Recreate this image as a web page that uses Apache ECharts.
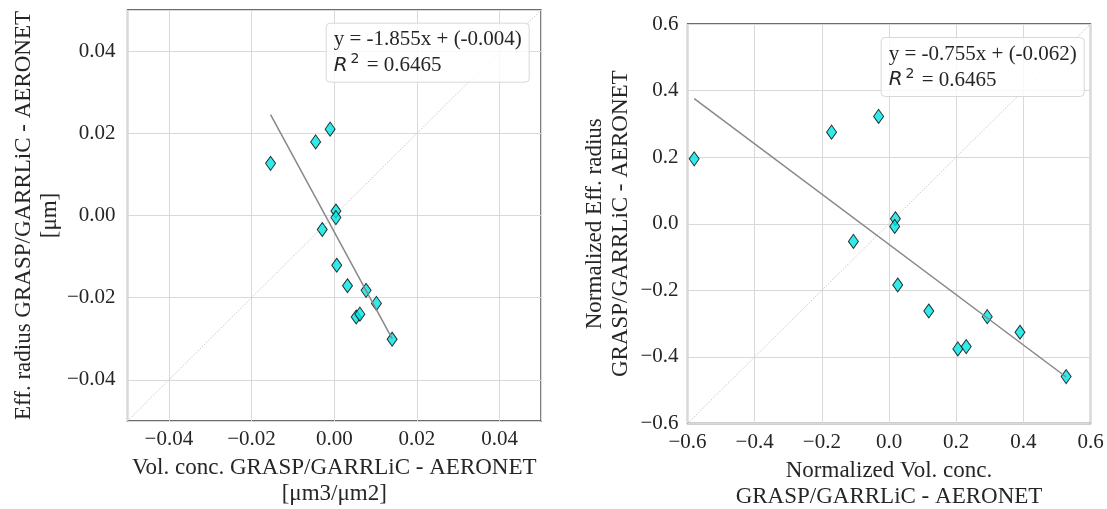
<!DOCTYPE html>
<html><head><meta charset="utf-8">
<script src="https://cdn.jsdelivr.net/npm/echarts@6/dist/echarts.min.js"></script>
<style>html,body{margin:0;padding:0;background:#fff}#c{width:1107px;height:509px}</style>
</head><body><div id="c"></div>
<script>
// Left panel: absolute differences
const volConc   = [-0.0154, -0.0045, -0.0010, 0.0004, 0.0004, -0.0029, 0.0006, 0.0032, 0.0077, 0.0102, 0.0053, 0.0062, 0.0140];
const effRadius = [0.0127, 0.0179, 0.0210, 0.0011, -0.0005, -0.0034, -0.0121, -0.0171, -0.0182, -0.0214, -0.0247, -0.0240, -0.0301];
// Right panel: normalized differences
const normVolConc   = [-0.580, -0.171, -0.031, 0.019, 0.017, -0.106, 0.026, 0.1185, 0.2925, 0.390, 0.205, 0.230, 0.5275];
const normEffRadius = [0.195, 0.275, 0.3225, 0.015, -0.008, -0.053, -0.184, -0.262, -0.279, -0.326, -0.376, -0.369, -0.459];
// Fit results
const fitLeft  = [-1.855, -0.004, 0.6465];   // slope, intercept, R2
const fitRight = [-0.755, -0.062, 0.6465];
// Axis ranges
const leftRange  = [-0.05, 0.05];
const rightRange = [-0.6, 0.6];

const SERIF = '"Liberation Serif", "Times New Roman", serif';
const TXT = '#262626';

function fmt(d) { return v => (v < 0 ? '\u2212' : '') + Math.abs(v).toFixed(d); }
function fitLine(xs, fit) {
  const lo = Math.min(...xs), hi = Math.max(...xs);
  return [[lo, fit[0] * lo + fit[1]], [hi, fit[0] * hi + fit[1]]];
}
function fitText(fit) {
  const s = v => v.toFixed(3);
  return '{t|y = ' + s(fit[0]) + 'x + (' + s(fit[1]) + ')}\n{r|R}{s|2}{t| = ' + fit[2].toFixed(4) + '}';
}
const richStyle = {
  t: {fontFamily: SERIF, fontSize: 21, fontWeight: 'normal', color: TXT, lineHeight: 26},
  r: {fontFamily: '"DejaVu Sans", sans-serif', fontStyle: 'italic', fontWeight: 'normal', fontSize: 20, color: TXT, lineHeight: 26},
  s: {fontFamily: '"DejaVu Sans", sans-serif', fontSize: 14, fontWeight: 'normal', color: TXT, lineHeight: 15, verticalAlign: 'top', padding: [0, 2, 0, 3]}
};
function axisCommon(range, extra) {
  return Object.assign({
    type: 'value', min: range[0], max: range[1],
    axisLine: {show: false}, axisTick: {show: false},
    splitLine: {show: true, lineStyle: {color: '#d9d9d9', width: 1}},
    nameLocation: 'middle',
    nameTextStyle: {fontFamily: SERIF, fontSize: 23, color: TXT, lineHeight: 26}
  }, extra);
}
function labels(decimals, margin, hideEnds) {
  return {fontFamily: SERIF, fontSize: 21, color: TXT, formatter: fmt(decimals), margin: margin,
          showMinLabel: !hideEnds, showMaxLabel: !hideEnds};
}
const markerStyle = {color: '#00e5e5', borderColor: '#000', borderWidth: 1};

const chart = echarts.init(document.getElementById('c'));
chart.setOption({
  animation: false,
  backgroundColor: '#fff',
  title: [
    {text: fitText(fitLeft), left: 325.7, top: 20.7, padding: [6, 8, 6, 8],
     backgroundColor: 'rgba(255,255,255,0.8)', borderColor: '#d8d8d8', borderWidth: 1, borderRadius: 4,
     textStyle: {fontWeight: 'normal', rich: richStyle}, z: 10},
    {text: fitText(fitRight), left: 880.7, top: 35, padding: [6, 8, 6, 8],
     backgroundColor: 'rgba(255,255,255,0.8)', borderColor: '#d8d8d8', borderWidth: 1, borderRadius: 4,
     textStyle: {fontWeight: 'normal', rich: richStyle}, z: 10}
  ],
  grid: [
    {left: 127.5, top: 10, width: 413.5, height: 411, outerBoundsMode: 'none', containLabel: false,
     show: true, borderColor: '#3c3c3c', borderWidth: 1.3, backgroundColor: 'transparent'},
    {left: 687.5, top: 24, width: 403, height: 399.5, outerBoundsMode: 'none', containLabel: false,
     show: true, borderColor: '#3c3c3c', borderWidth: 1.3, backgroundColor: 'transparent'}
  ],
  xAxis: [
    axisCommon(leftRange, {gridIndex: 0, splitNumber: 5, axisLabel: labels(2, 8, true),
      name: 'Vol. conc. GRASP/GARRLiC - AERONET\n[\u03bcm3/\u03bcm2]', nameGap: 33}),
    axisCommon(rightRange, {gridIndex: 1, interval: 0.2, axisLabel: labels(1, 8, false),
      name: 'Normalized Vol. conc.\nGRASP/GARRLiC - AERONET', nameGap: 34})
  ],
  yAxis: [
    axisCommon(leftRange, {gridIndex: 0, splitNumber: 5, axisLabel: labels(2, 12, true),
      name: 'Eff. radius GRASP/GARRLiC - AERONET\n[\u03bcm]', nameGap: 54}),
    axisCommon(rightRange, {gridIndex: 1, interval: 0.2, axisLabel: labels(1, 9, false),
      name: 'Normalized Eff. radius\nGRASP/GARRLiC - AERONET', nameGap: 54})
  ],
  series: [
    {type: 'line', xAxisIndex: 0, yAxisIndex: 0, symbol: 'none', silent: true,
     data: [[leftRange[0], leftRange[0]], [leftRange[1], leftRange[1]]],
     lineStyle: {color: '#bdbdbd', width: 0.8, type: [1.5, 1.5]}},
    {type: 'line', xAxisIndex: 0, yAxisIndex: 0, symbol: 'none', silent: true,
     data: fitLine(volConc, fitLeft), lineStyle: {color: '#888', width: 1.5}},
    {type: 'scatter', xAxisIndex: 0, yAxisIndex: 0, symbol: 'diamond', symbolSize: [10, 14],
     data: volConc.map((x, i) => [x, effRadius[i]]), itemStyle: markerStyle},
    {type: 'line', xAxisIndex: 1, yAxisIndex: 1, symbol: 'none', silent: true,
     data: [[rightRange[0], rightRange[0]], [rightRange[1], rightRange[1]]],
     lineStyle: {color: '#bdbdbd', width: 0.8, type: [1.5, 1.5]}},
    {type: 'line', xAxisIndex: 1, yAxisIndex: 1, symbol: 'none', silent: true,
     data: fitLine(normVolConc, fitRight), lineStyle: {color: '#888', width: 1.5}},
    {type: 'scatter', xAxisIndex: 1, yAxisIndex: 1, symbol: 'diamond', symbolSize: [10, 14],
     data: normVolConc.map((x, i) => [x, normEffRadius[i]]), itemStyle: markerStyle}
  ]
});
</script></body></html>
